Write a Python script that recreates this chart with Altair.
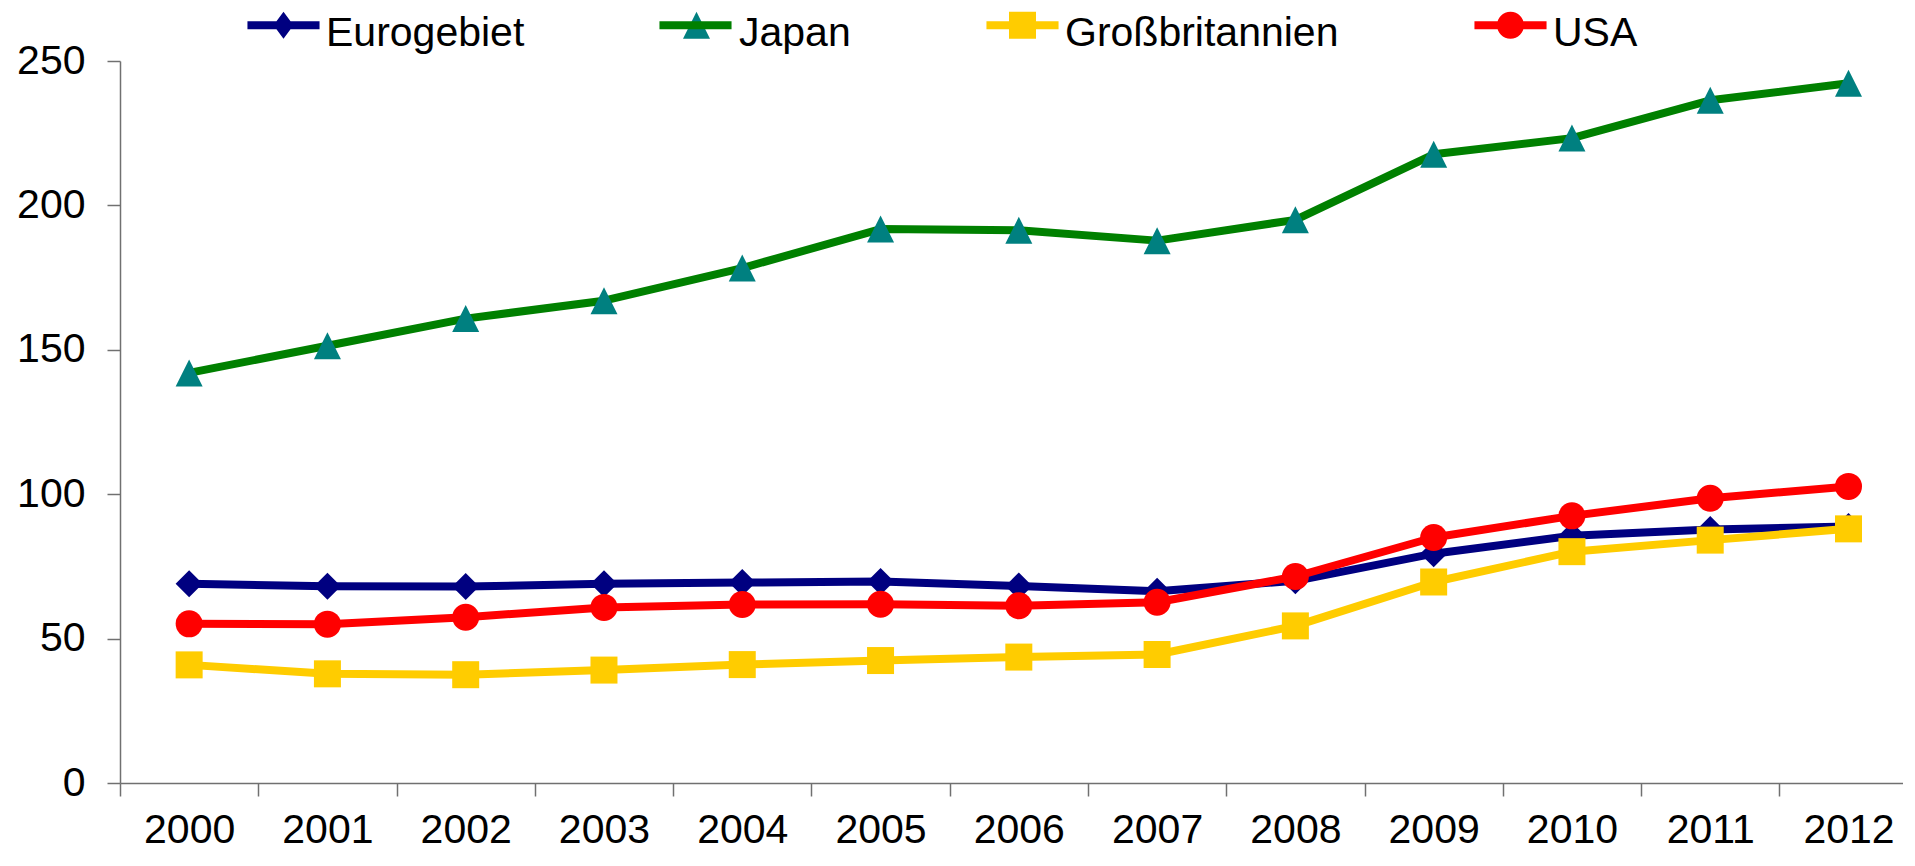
import altair as alt
import pandas as pd

# ---- data ----
years = list(range(2000, 2013))
series_names = ["Eurogebiet", "Japan", "Großbritannien", "USA"]
eurogebiet = [69.0, 68.1, 68.0, 69.0, 69.4, 69.8, 68.2, 66.4, 70.0, 79.4, 85.6, 87.8, 88.8]
japan = [142.0, 151.4, 160.8, 167.0, 178.3, 191.8, 191.4, 187.8, 195.0, 217.7, 223.3, 236.4, 242.3]
grossbritannien = [40.9, 37.8, 37.5, 39.1, 41.0, 42.4, 43.6, 44.5, 54.4, 69.6, 80.1, 84.1, 88.0]
usa = [55.1, 55.0, 57.4, 60.8, 61.8, 61.9, 61.4, 62.6, 71.5, 85.0, 92.5, 98.6, 102.7]
y_ticks = [0, 50, 100, 150, 200, 250]

# ---- styles ----
line_colors = ["#000080", "#008000", "#FFCC00", "#FF0000"]
marker_colors = ["#000080", "#008080", "#FFCC00", "#FF0000"]
marker_shapes = ["diamond", "M0,-1L1,1L-1,1Z", "square", "circle"]


def legend_symbol(kind, dy, with_line=True):
    """Line + marker symbol path (unit box) for the legend."""
    t = 0.296
    if with_line:
        line = (f"M-2.67,{-t+dy:.3f}H-0.3V{t+dy:.3f}H-2.67Z"
                f"M0.3,{-t+dy:.3f}H2.67V{t+dy:.3f}H0.3Z")
    else:
        # zero-area guide: keeps the symbol extent equal, draws nothing
        line = f"M-2.67,{dy:.3f}H2.67"
    if kind == "diamond":
        m = f"M0,{-1+dy:.3f}L0.74,{dy:.3f}L0,{1+dy:.3f}L-0.74,{dy:.3f}Z"
    elif kind == "triangle":
        m = f"M0,{-1+dy:.3f}L1,{1+dy:.3f}L-1,{1+dy:.3f}Z"
    elif kind == "square":
        m = f"M-1,{-1+dy:.3f}H1V{1+dy:.3f}H-1Z"
    else:
        k = 0.5523
        m = (f"M1,{dy:.3f}C1,{k+dy:.3f} {k},{1+dy:.3f} 0,{1+dy:.3f}"
             f"C{-k},{1+dy:.3f} -1,{k+dy:.3f} -1,{dy:.3f}"
             f"C-1,{-k+dy:.3f} {-k},{-1+dy:.3f} 0,{-1+dy:.3f}"
             f"C{k},{-1+dy:.3f} 1,{-k+dy:.3f} 1,{dy:.3f}Z")
    return line + m


LEG_DY = -0.63
legend_paths = [
    legend_symbol("diamond", LEG_DY),
    legend_symbol("triangle", LEG_DY, with_line=False),  # green line comes from its own legend
    legend_symbol("square", LEG_DY),
    legend_symbol("circle", LEG_DY),
]
japan_line_path = f"M-2.67,{LEG_DY}H2.67"

rows = []
for name, vals in zip(series_names, [eurogebiet, japan, grossbritannien, usa]):
    for yr, v in zip(years, vals):
        rows.append({"Jahr": yr, "Wert": v, "Reihe": name})
df = pd.DataFrame(rows)

# ---- geometry ----
PAD_L, PAD_T, PAD_R, PAD_B = 112, 53, 0, 69
W, H = 1783, 722
STEP = 138.28  # pixels per year
x_min = years[0] - 0.5
x_max = x_min + W / STEP
x_tick_vals = [yr - 0.5 for yr in years]

FONT = "Liberation Sans"
FS = 41
LW = 8
MSIZE = 729

x_enc = alt.X(
    "Jahr:Q",
    scale=alt.Scale(domain=[x_min, x_max], nice=False, zero=False),
    axis=alt.Axis(
        values=x_tick_vals,
        labelExpr="format(datum.value + 0.5, 'd')",
        labelOffset=STEP / 2,
        labelFlush=False,
        labelOverlap=False,
        labelBound=False,
        labelBaseline="alphabetic",
        labelPadding=46,
        tickSize=13,
        grid=False,
    ),
    title=None,
)
y_enc = alt.Y(
    "Wert:Q",
    scale=alt.Scale(domain=[0, 250], nice=False),
    axis=alt.Axis(values=y_ticks, labelPadding=22, tickSize=13, grid=False),
    title=None,
)

common_leg = dict(
    orient="none",
    legendY=-48,
    direction="horizontal",
    columns=4,
    title=None,
    padding=0,
    symbolSize=MSIZE,
    symbolStrokeWidth=LW,
    symbolOpacity=1,
    labelFont=FONT,
    labelFontSize=FS,
    labelColor="black",
    labelLimit=0,
    labelOffset=22,
    columnPadding=119,
)
legend_main = alt.Legend(legendX=143, symbolStrokeColor="transparent", **common_leg)
legend_japan_line = alt.Legend(
    legendX=555,
    symbolType=japan_line_path,
    symbolFillColor="transparent",
    labelExpr="''",
    **common_leg,
)

base = alt.Chart(df)
layers = []
for name, lc, mc, ms in zip(series_names, line_colors, marker_colors, marker_shapes):
    sub = base.transform_filter(alt.datum.Reihe == name)
    layers.append(
        sub.mark_line(color=lc, strokeWidth=LW, strokeJoin="round", strokeCap="round")
        .encode(x=x_enc, y=y_enc)
    )
    layers.append(
        sub.mark_point(filled=True, fill=mc, shape=ms, size=MSIZE, opacity=1, strokeWidth=0)
        .encode(x=x_enc, y=y_enc)
    )

# legend-only layers (no marks drawn)
legend_layer = base.transform_filter("false").mark_point(
    filled=True, size=MSIZE, opacity=1
).encode(
    color=alt.Color("Reihe:N", scale=alt.Scale(domain=series_names, range=marker_colors),
                    legend=legend_main),
    shape=alt.Shape("Reihe:N", scale=alt.Scale(domain=series_names, range=legend_paths),
                    legend=legend_main),
)
japan_line_layer = base.transform_filter("false").mark_point(
    filled=False, size=MSIZE, opacity=1
).encode(
    stroke=alt.Stroke("Reihe:N", scale=alt.Scale(domain=[series_names[1]], range=[line_colors[1]]),
                      legend=legend_japan_line),
)
layers += [legend_layer, japan_line_layer]

chart = (
    alt.layer(*layers)
    .properties(
        width=W,
        height=H,
        autosize=alt.AutoSizeParams(type="none"),
        padding={"left": PAD_L, "top": PAD_T, "right": PAD_R, "bottom": PAD_B},
        background="white",
    )
    .configure_view(stroke=None)
    .configure_axis(
        labelFont=FONT,
        labelFontSize=FS,
        labelColor="black",
        domainColor="#707070",
        tickColor="#707070",
        domainWidth=1.5,
        tickWidth=1.5,
    )
)

chart.save("out.html", embed_options={"renderer": "svg", "actions": False})
